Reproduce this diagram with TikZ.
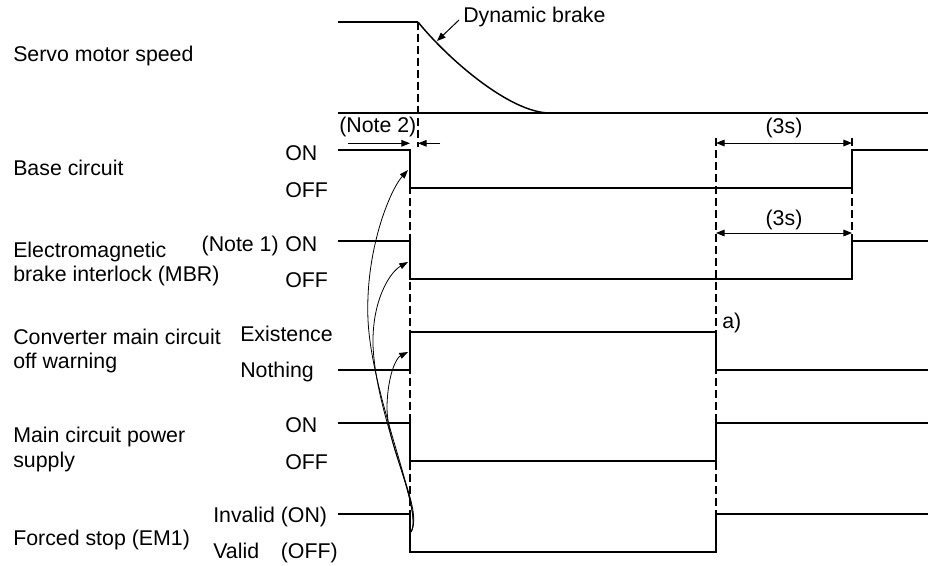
\documentclass[tikz,border=0pt]{standalone}
\usepackage{fontspec}
\setmainfont{Liberation Sans}
\usetikzlibrary{arrows.meta}
\begin{document}
\begin{tikzpicture}[x=0.75pt,y=-0.75pt,
  lbl/.style={anchor=base west, inner sep=0pt, font=\fontsize{16}{19}\selectfont},
  rlbl/.style={anchor=base east, inner sep=0pt, font=\fontsize{16}{19}\selectfont},
  clbl/.style={anchor=base, inner sep=0pt, font=\fontsize{16}{19}\selectfont},
  sig/.style={line width=1.4pt, line join=miter},
  zero/.style={line width=2.2pt},
  dashline/.style={line width=0.9pt, dash pattern=on 6pt off 3pt},
  thin/.style={line width=0.75pt},
  tipend/.style={thin, -{Triangle[length=6.5pt,width=5pt]}},
  tipboth/.style={thin, {Triangle[length=6.5pt,width=5pt]}-{Triangle[length=6.5pt,width=5pt]}},
  curvearrow/.style={line width=0.6pt, -{Triangle[length=6.5pt,width=4.6pt]}}]
\useasboundingbox (0,0) rectangle (928,565);

% signal names
\node[lbl] (servo) at (13,61) {Servo motor speed};
\node[lbl] (base) at (13,175) {Base circuit};
\node[lbl] (emb1) at (13,257) {Electromagnetic};
\node[lbl] (emb2) at (13,281) {brake interlock (MBR)};
\node[lbl] (conv1) at (13,344) {Converter main circuit};
\node[lbl] (conv2) at (13,368) {off warning};
\node[lbl] (mc1) at (13,442) {Main circuit power};
\node[lbl] (mc2) at (13,467) {supply};
\node[lbl] (fs) at (13,545) {Forced stop (EM1)};

% state labels
\node[lbl] (bon) at (285,160) {ON};
\node[lbl] (boff) at (285,197) {OFF};
\node[rlbl] (note1) at (279,251) {(Note 1)};
\node[lbl] (mon) at (285,251) {ON};
\node[lbl] (moff) at (285,287) {OFF};
\node[lbl] (exist) at (240,341) {Existence};
\node[lbl] (noth) at (240,377) {Nothing};
\node[lbl] (pon) at (285,432) {ON};
\node[lbl] (poff) at (285,469) {OFF};
\node[lbl] (inv) at (213,522) {Invalid (ON)};
\node[lbl] (val) at (213,558) {\rlap{Valid}\phantom{Invalid }(OFF)};

% annotations
\node[lbl] (note2) at (339,132) {(Note 2)};
\node[lbl] (dyn) at (463,22) {Dynamic brake};
\node[clbl] (t1) at (784,133) {(3s)};
\node[clbl] (t2) at (784,225) {(3s)};
\node[lbl] (alabel) at (722,328) {a)};

% dashed guides
\draw[dashline] (418,22) -- (418,147);
\draw[dashline] (410,150) -- (410,552);
\draw[dashline] (716,138) -- (716,552);
\draw[dashline] (852,138) -- (852,279);

% servo motor speed
\draw[sig] (338,22) -- (418,22);
\draw[line width=1.1pt] (418,22) .. controls (448,59) and (510,113) .. (550,113);
\draw[zero] (338,113) -- (928,113);

% waveforms
\draw[sig] (338,150) -- (410,150) -- (410,188) -- (852,188) -- (852,150) -- (928,150);
\draw[sig] (338,241) -- (410,241) -- (410,279) -- (852,279) -- (852,241) -- (928,241);
\draw[sig] (338,370) -- (410,370) -- (410,332) -- (716,332) -- (716,370) -- (928,370);
\draw[sig] (338,423) -- (410,423) -- (410,461) -- (716,461) -- (716,423) -- (928,423);
\draw[sig] (338,514) -- (410,514) -- (410,552) -- (716,552) -- (716,514) -- (928,514);

% arrow end points
\coordinate (dbs) at (459,20);
\coordinate (dbt) at (437,41);
\coordinate (n2a) at (348,143.3);
\coordinate (n2b) at (410,143.3);
\coordinate (n2c) at (440,143.3);
\coordinate (n2d) at (418,143.3);
\coordinate (d1a) at (716,143);
\coordinate (d1b) at (852,143);
\coordinate (d2a) at (716,233);
\coordinate (d2b) at (852,233);
\coordinate (em) at (411,532);
\coordinate (tb) at (408,170);
\coordinate (tm) at (408,262);
\coordinate (tc) at (408,352);

\draw[tipend] (dbs) -- (dbt);
\draw[tipend] (n2a) -- (n2b);
\draw[tipend] (n2c) -- (n2d);
\draw[tipboth] (d1a) -- (d1b);
\draw[tipboth] (d2a) -- (d2b);

% cause arrows from EM1
\draw[curvearrow] (em) .. controls (424,512) and (372,400) .. (368,320) .. controls (365,250) and (390,190) .. (tb);
\draw[curvearrow] (em) .. controls (424,512) and (376,420) .. (373,345) .. controls (372,300) and (390,272) .. (tm);
\draw[curvearrow] (em) .. controls (424,508) and (386,450) .. (387,405) .. controls (388,375) and (396,358) .. (tc);
\end{tikzpicture}
\end{document}
